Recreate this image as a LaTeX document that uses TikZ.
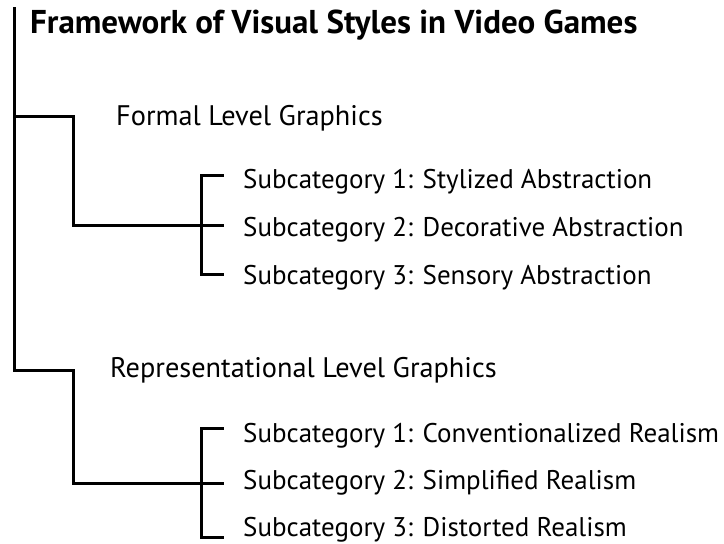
\documentclass[tikz,border=0pt]{standalone}
\usepackage{fontspec}
\setmainfont{PT Sans}
\begin{document}
\begin{tikzpicture}[x=1pt,y=-1pt,
  tree/.style={line width=3pt, line cap=rect},
  lbl/.style={anchor=base west, inner sep=0pt, font=\fontsize{27}{31}\selectfont},
  grp/.style={anchor=base west, inner sep=0pt, font=\fontsize{28.3}{32}\selectfont},
  ttl/.style={anchor=base west, inner sep=0pt, font=\fontsize{33}{38}\selectfont\bfseries}]
\useasboundingbox (0,0) rectangle (724,544);
\node[ttl] (title) at (30,33) {Framework of Visual Styles in Video Games};
\node[grp] (formal) at (116,125) {Formal Level Graphics};
\node[lbl] (f1) at (243,188) {Subcategory 1: Stylized Abstraction};
\node[lbl] (f2) at (243,236) {Subcategory 2: Decorative Abstraction};
\node[lbl] (f3) at (243,284) {Subcategory 3: Sensory Abstraction};
\node[grp] (rep) at (110,377) {Representational Level Graphics};
\node[lbl] (r1) at (243,442) {Subcategory 1: Conventionalized Realism};
\node[lbl] (r2) at (243,489) {Subcategory 2: Simplified Realism};
\node[lbl] (r3) at (243,536) {Subcategory 3: Distorted Realism};
\coordinate (top) at (14,8);
\coordinate (fb) at (14,116);
\coordinate (rb) at (14,370);
\draw[tree] (top) -- (rb);
\draw[tree] (fb) -| (73,225) -- (222,225);
\draw[tree] (222,175) -- (201,175) -- (201,274) -- (222,274);
\draw[tree] (rb) -| (73,483) -- (222,483);
\draw[tree] (222,428) -- (201,428) -- (201,537) -- (222,537);
\end{tikzpicture}
\end{document}
